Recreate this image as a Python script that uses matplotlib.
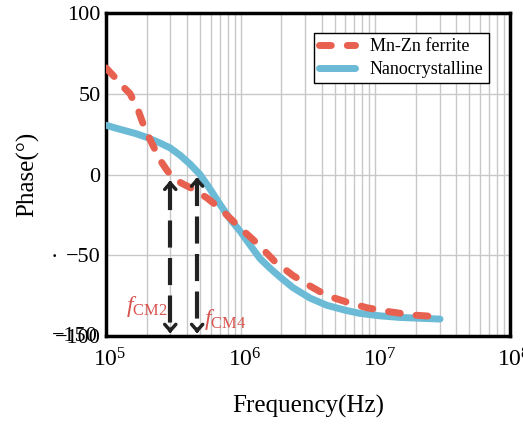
import matplotlib
matplotlib.use('Agg')
import matplotlib.pyplot as plt
import matplotlib.transforms as mtransforms
import numpy as np

plt.rcParams['font.family'] = ['Liberation Serif', 'DejaVu Serif']
plt.rcParams['mathtext.fontset'] = 'custom'
plt.rcParams['mathtext.rm'] = 'Liberation Serif'
plt.rcParams['mathtext.it'] = 'Liberation Serif:italic'

# Mn-Zn ferrite phase (deg) vs frequency (Hz)
f_mnzn = [1.0e5, 1.17e5, 1.315e5, 1.51e5, 1.73e5, 1.95e5, 2.20e5, 2.52e5, 2.84e5,
          3.14e5, 3.66e5, 4.43e5, 5.62e5, 7.02e5, 8.33e5, 1.02e6, 1.34e6, 1.80e6,
          2.44e6, 3.27e6, 4.37e6, 6.15e6, 8.66e6, 1.28e7, 1.90e7, 2.87e7]
ph_mnzn = [66, 60, 55, 50, 40, 28, 19, 9, 2.5, -2, -5.5, -9, -14.5, -21, -27, -34,
           -43, -54, -62.5, -69, -75, -79, -82.5, -85, -87, -88]

# Nanocrystalline
f_nano = [1.0e5, 1.27e5, 1.64e5, 2.01e5, 2.52e5, 2.99e5, 3.54e5, 4.20e5, 4.99e5,
          5.92e5, 7.02e5, 8.33e5, 9.88e5, 1.17e6, 1.39e6, 1.65e6, 1.96e6, 2.44e6,
          3.27e6, 4.37e6, 5.95e6, 7.69e6, 1.08e7, 1.52e7, 2.14e7, 3.02e7]
ph_nano = [30.5, 28, 25.5, 23, 19.5, 16.5, 12, 6.5, 0, -9, -18.5, -27.5, -35, -43.5,
           -52, -58, -63.5, -70, -76.5, -81, -84, -86, -87.5, -88.5, -89, -89.5]

# marker frequencies
f_cm = [3.0e5, 4.75e5]
ph_cm = [-2, 0]
cm_names = [r'$f_{\mathrm{CM2}}$', r'$f_{\mathrm{CM4}}$']

fig = plt.figure(figsize=(5.23, 4.24), dpi=100)
ax = fig.add_axes([0.2027, 0.2075, 0.7725, 0.7618])

ax.plot(f_mnzn, ph_mnzn, color='#e8604f', lw=5, ls=(0, (1.7, 2.3)),
        dash_capstyle='round', label='Mn-Zn ferrite', zorder=4)
ax.plot(f_nano, ph_nano, color='#6bbad6', lw=5, solid_capstyle='round',
        label='Nanocrystalline', zorder=3)

for fx, py in zip(f_cm, ph_cm):
    ax.plot([fx, fx], [py - 3, -97], color='#222222', lw=3, ls=(0, (6.5, 2.5)), zorder=5)
    ax.annotate('', xy=(fx, py), xytext=(fx, py - 6),
                arrowprops=dict(arrowstyle='->,head_width=0.4,head_length=0.45',
                                color='#222222', lw=2.5), zorder=6)
    ax.annotate('', xy=(fx, -100), xytext=(fx, -94),
                arrowprops=dict(arrowstyle='->,head_width=0.4,head_length=0.45',
                                color='#222222', lw=2.5), zorder=6)

ax.text(2.85e5, -82, cm_names[0], color='#d9534f', fontsize=17, ha='right', va='center')
ax.text(5.3e5, -90, cm_names[1], color='#d9534f', fontsize=17, ha='left', va='center')

ax.set_xscale('log')
ax.set_xlim(1e5, 1e8)
ax.set_ylim(-100, 100)
ax.set_yticks([-100, -50, 0, 50, 100])
ax.set_yticklabels(['\u2212100', '\u221250', '0', '50', '100'])
ax.grid(True, which='major', color='#c8c8c8', lw=1)
ax.grid(True, which='minor', axis='x', color='#c8c8c8', lw=1)
ax.tick_params(which='both', length=0, labelsize=16, pad=4)
ax.tick_params(axis='x', labelsize=17, pad=9)
shift = mtransforms.ScaledTranslation(4 / 100, 0, fig.dpi_scale_trans)
for lab in ax.get_xticklabels():
    lab.set_transform(lab.get_transform() + shift)
for s in ax.spines.values():
    s.set_linewidth(2.5)

# overlapped label artefact at the bottom of the y axis
ax.text(-0.021, -100, '\u2212150', transform=ax.get_yaxis_transform(),
        fontsize=16, ha='right', va='center')
ax.text(-0.12, -52, '\u00b7', transform=ax.get_yaxis_transform(),
        fontsize=16, ha='right', va='center')

ax.set_xlabel('Frequency(Hz)', fontsize=18, labelpad=17)
ax.set_ylabel('Phase(\u00b0)', fontsize=18, labelpad=11)

leg = ax.legend(loc='upper right', bbox_to_anchor=(0.948, 0.938), fontsize=13,
                frameon=True, fancybox=False, edgecolor='black', framealpha=1,
                handlelength=2.0, borderpad=0.3, labelspacing=0.3, borderaxespad=0)
leg.get_frame().set_linewidth(1)

fig.savefig('out.png', dpi=100)
